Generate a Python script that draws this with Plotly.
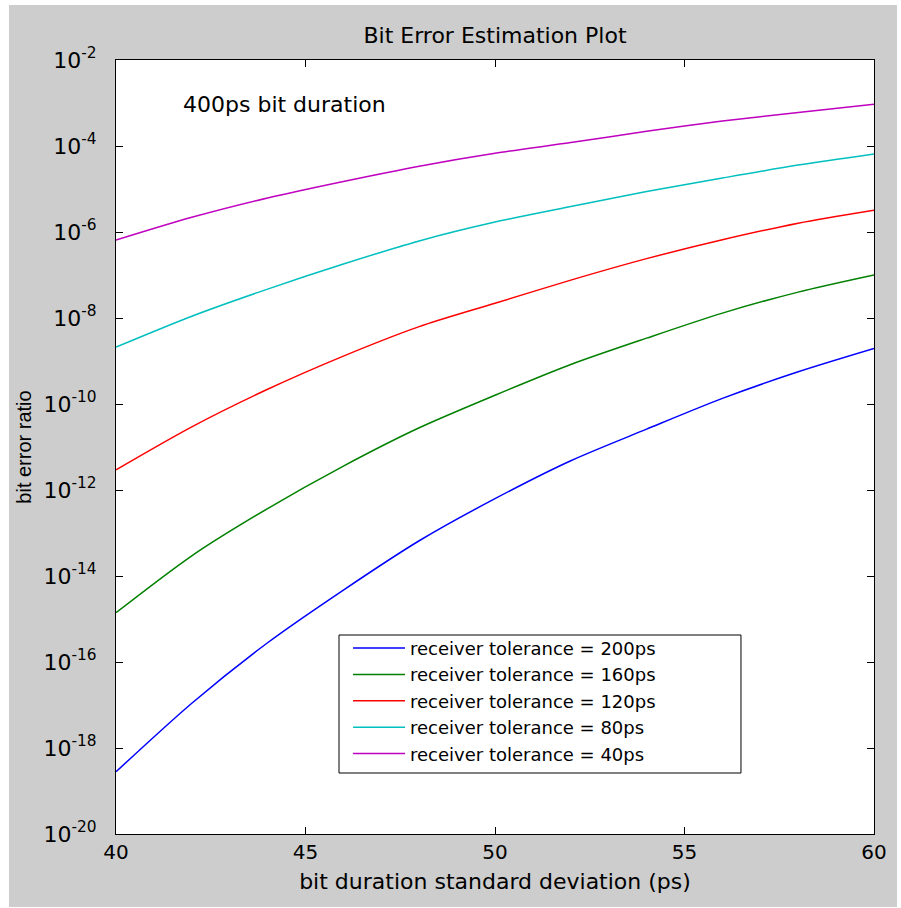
import plotly.graph_objects as go

sigma_ps = [40, 42, 44, 46, 48, 50, 52, 54, 56, 58, 60]

ber_200ps = [2.8e-19, 1.1e-17, 2.8e-16, 4.7e-15, 6.6e-14, 6.3e-13, 4.8e-12, 2.6e-11, 1.35e-10, 5.6e-10, 1.95e-9]
ber_160ps = [1.4e-15, 2.95e-14, 3.7e-13, 3.6e-12, 2.8e-11, 1.6e-10, 8.3e-10, 3.4e-9, 1.3e-8, 4.0e-8, 1.0e-7]
ber_120ps = [2.95e-12, 2.95e-11, 2.2e-10, 1.3e-9, 6.3e-9, 2.2e-8, 7.6e-8, 2.4e-7, 6.6e-7, 1.6e-6, 3.2e-6]
ber_80ps = [2.1e-9, 1.1e-8, 4.7e-8, 1.8e-7, 6.2e-7, 1.7e-6, 3.9e-6, 8.7e-6, 1.8e-5, 3.6e-5, 6.5e-5]
ber_40ps = [6.5e-7, 2.2e-6, 6.2e-6, 1.5e-5, 3.4e-5, 6.8e-5, 1.2e-4, 2.2e-4, 3.8e-4, 6.0e-4, 9.3e-4]

series_names = [
    "receiver tolerance = 200ps",
    "receiver tolerance = 160ps",
    "receiver tolerance = 120ps",
    "receiver tolerance = 80ps",
    "receiver tolerance = 40ps",
]
series_values = [ber_200ps, ber_160ps, ber_120ps, ber_80ps, ber_40ps]
series_colors = ["#0000FF", "#008000", "#FF0000", "#00BFBF", "#BF00BF"]

y_tick_vals = [1e-20, 1e-18, 1e-16, 1e-14, 1e-12, 1e-10, 1e-8, 1e-6, 1e-4, 1e-2]
y_tick_text = ["10<sup>-20</sup>", "10<sup>-18</sup>", "10<sup>-16</sup>", "10<sup>-14</sup>",
               "10<sup>-12</sup>", "10<sup>-10</sup>", "10<sup>-8</sup>", "10<sup>-6</sup>",
               "10<sup>-4</sup>", "10<sup>-2</sup>"]
x_tick_vals = [40, 45, 50, 55, 60]

FONT = "DejaVu Sans, Liberation Sans, Arial, sans-serif"
NARROW = "Liberation Sans Narrow, Liberation Sans, Arial, sans-serif"

fig = go.Figure()
for name, vals, col in zip(series_names, series_values, series_colors):
    fig.add_trace(go.Scatter(
        x=sigma_ps, y=vals, mode="lines", name=name,
        line=dict(color=col, width=1.5, shape="spline", smoothing=0.8),
    ))

# grey MATLAB-style figure background with a thin white border, white axes area
fig.add_shape(type="rect", xref="paper", yref="paper",
              x0=-0.1412, x1=1.0303, y0=-0.0943, y1=1.0711,
              fillcolor="#CDCDCD", line=dict(width=0), layer="below")
fig.add_shape(type="rect", xref="paper", yref="paper",
              x0=0, x1=1, y0=0, y1=1,
              fillcolor="white", line=dict(width=0), layer="below")
# legend frame (MATLAB legend box is wider than the text needs)
fig.add_shape(type="rect", xref="paper", yref="paper",
              x0=0.2942, x1=0.8245, y0=0.0788, y1=0.2571,
              fillcolor="white", line=dict(color="black", width=1), layer="above")

fig.add_annotation(text="400ps bit duration", xref="paper", yref="paper",
                   x=0.086, y=0.942, xanchor="left", yanchor="middle",
                   showarrow=False, font=dict(family=FONT, size=22, color="black"))

fig.update_layout(
    width=901, height=908,
    margin=dict(l=116, r=27, t=60, b=74),
    paper_bgcolor="white",
    plot_bgcolor="white",
    font=dict(family=FONT, size=20, color="black"),
    title=dict(text="Bit Error Estimation Plot", x=0.5, xref="paper",
               y=1 - 35 / 908, yanchor="middle",
               font=dict(family=FONT, size=22, color="black")),
    legend=dict(x=0.3061, y=0.2638, xanchor="left", yanchor="top",
                bgcolor="rgba(0,0,0,0)", borderwidth=0,
                font=dict(family=FONT, size=18, color="black"),
                itemwidth=52, tracegroupgap=0),
    showlegend=True,
)

fig.update_xaxes(
    range=[40, 60], tickvals=x_tick_vals,
    showgrid=False, zeroline=False,
    showline=True, linecolor="black", linewidth=1, mirror="ticks",
    ticks="inside", ticklen=7, tickcolor="black",
    tickfont=dict(family=FONT, size=20, color="black"),
    title=dict(text="bit duration standard deviation (ps)", standoff=10,
               font=dict(family=FONT, size=22, color="black")),
)
fig.update_yaxes(
    type="log", range=[-20, -2], tickvals=y_tick_vals, ticktext=y_tick_text,
    showgrid=False, zeroline=False,
    showline=True, linecolor="black", linewidth=1, mirror="ticks",
    ticks="inside", ticklen=7, tickcolor="black", ticklabelstandoff=14,
    tickfont=dict(family=FONT, size=22, color="black"),
    title=dict(text="bit error ratio", standoff=6,
               font=dict(family=NARROW, size=20, color="black")),
)

fig.write_html("out.html", config={"displayModeBar": False},
               post_script="document.body.style.margin='0';")
